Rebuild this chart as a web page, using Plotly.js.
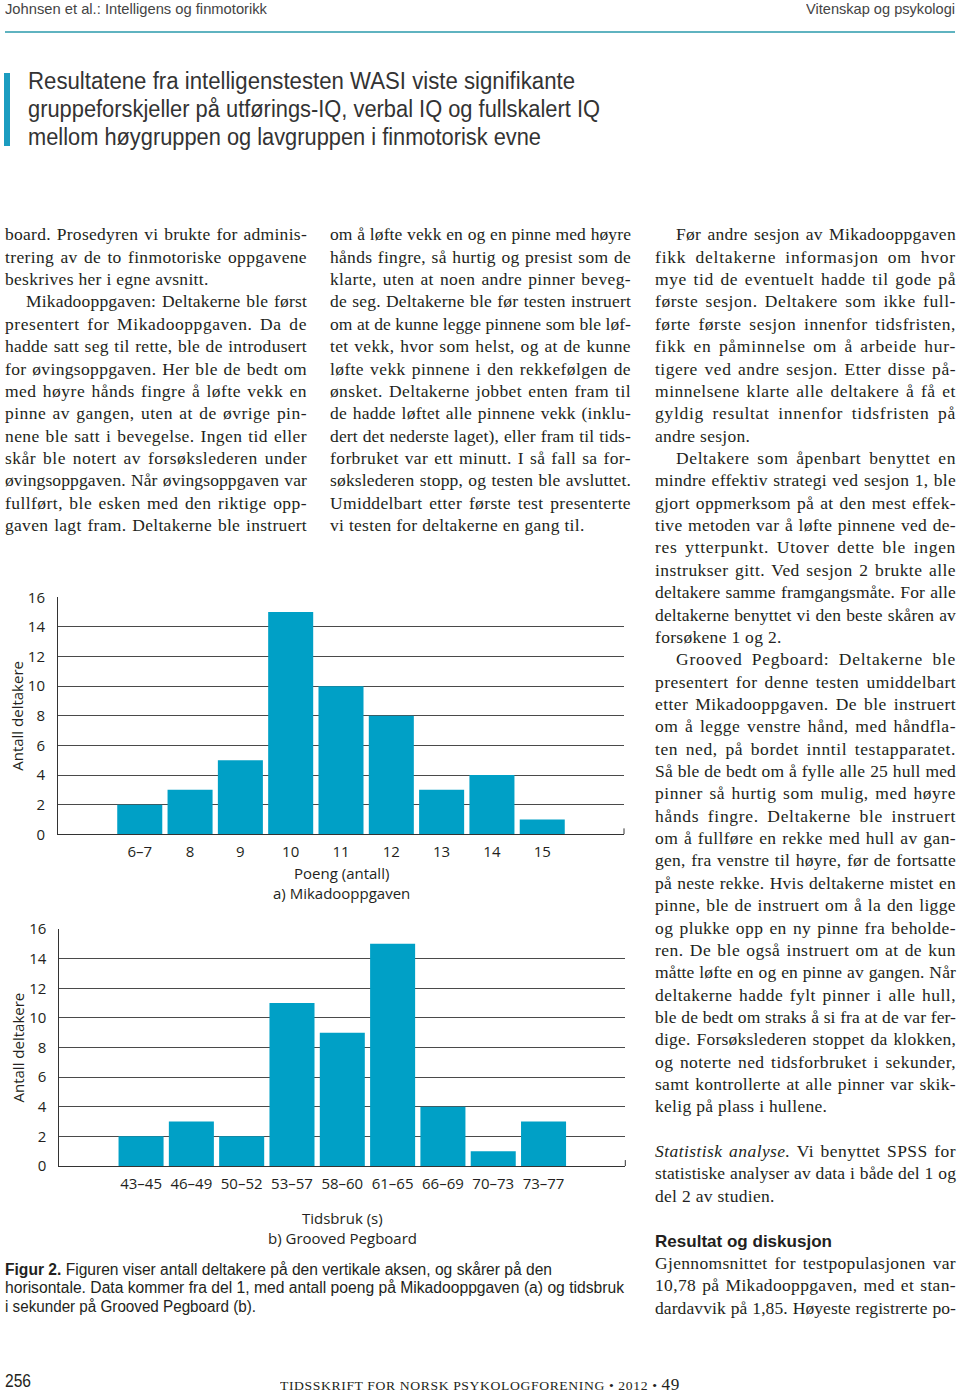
<!DOCTYPE html>
<html>
<head>
<meta charset="utf-8">
<script src="https://cdn.plot.ly/plotly-3.0.1.min.js"></script>
<style>
  html, body { margin:0; padding:0; background:#fff; }
  body { width:960px; height:1392px; position:relative; overflow:hidden; color:#231f20; }
  #plot { position:absolute; left:0; top:0; width:960px; height:1392px; }
  .abs { position:absolute; white-space:pre; line-height:1; }
  .fit { display:inline-block; transform-origin:left center; white-space:pre; }
  .sans { font-family:"Liberation Sans", Arial, sans-serif; }
  .serif { font-family:"Liberation Serif", "Times New Roman", serif; }
  .col { position:absolute; font-family:"Liberation Serif", "Times New Roman", serif; font-size:17.5px; color:#231f20; }
  .l { height:22.36px; line-height:22.36px; white-space:pre; }
  .l > span { display:inline-block; white-space:pre; transform-origin:left center; }
  .head { font-family:"Liberation Sans", Arial, sans-serif; font-weight:bold; font-size:17px; }
</style>
</head>
<body>
<div id="plot"></div>

<!-- header -->
<div class="abs sans" style="left:5px;top:1px;font-size:15px;color:#444;"><span class="fit" data-w="262">Johnsen et al.: Intelligens og finmotorikk</span></div>
<div class="abs sans" style="left:806px;top:1px;font-size:15px;color:#444;"><span class="fit" data-w="149">Vitenskap og psykologi</span></div>
<div style="position:absolute;left:5px;top:31px;width:950px;height:1.5px;background:#5fb3c0;"></div>

<!-- pull quote -->
<div style="position:absolute;left:4px;top:73px;width:6px;height:73px;background:#1b9cc0;"></div>
<div class="abs sans" style="left:28px;top:70px;font-size:23px;color:#333;"><span class="fit" data-w="547">Resultatene fra intelligenstesten WASI viste signifikante</span></div>
<div class="abs sans" style="left:28px;top:98px;font-size:23px;color:#333;"><span class="fit" data-w="572">gruppeforskjeller på utførings-IQ, verbal IQ og fullskalert IQ</span></div>
<div class="abs sans" style="left:28px;top:126px;font-size:23px;color:#333;"><span class="fit" data-w="513">mellom høygruppen og lavgruppen i finmotorisk evne</span></div>

<!-- columns -->
<div class="col" id="col1" data-w="302" style="left:5px;top:223.4px;width:302px;"></div>
<div class="col" id="col2" data-w="301" style="left:330px;top:223.4px;width:301px;"></div>
<div class="col" id="col3" data-w="301" style="left:655px;top:223.4px;width:301px;"></div>

<!-- caption -->
<div class="abs sans" style="left:5px;top:1261.5px;font-size:16px;color:#231f20;"><span class="fit" data-w="547"><b>Figur 2.</b> Figuren viser antall deltakere på den vertikale aksen, og skårer på den</span></div>
<div class="abs sans" style="left:5px;top:1280px;font-size:16px;color:#231f20;"><span class="fit" data-w="619">horisontale. Data kommer fra del 1, med antall poeng på Mikadooppgaven (a) og tidsbruk</span></div>
<div class="abs sans" style="left:5px;top:1298.5px;font-size:16px;color:#231f20;"><span class="fit" data-w="251">i sekunder på Grooved Pegboard (b).</span></div>

<!-- footer -->
<div class="abs sans" style="left:5px;top:1372px;font-size:18px;color:#231f20;"><span class="fit" data-w="26">256</span></div>
<div class="abs serif" style="left:280px;top:1375.5px;font-size:13.5px;color:#231f20;letter-spacing:0.6px;"><span class="fit" data-w="400">TIDSSKRIFT FOR NORSK PSYKOLOGFORENING • 2012 • <span style="font-size:17px;">49</span></span></div>

<script>
// ---------------- chart data ----------------
const mikadoCategories = ['6–7', '8', '9', '10', '11', '12', '13', '14', '15'];
const mikadoCounts     = [2, 3, 5, 15, 10, 8, 3, 4, 1];

const pegboardCategories = ['43–45', '46–49', '50–52', '53–57', '58–60', '61–65', '66–69', '70–73', '73–77'];
const pegboardCounts     = [2, 3, 2, 11, 9, 15, 4, 1, 3];

const yTickValues = [0, 2, 4, 6, 8, 10, 12, 14, 16];

const yTitle = 'Antall deltakere';
const mikadoXTitle = 'Poeng (antall)';
const mikadoSubtitle = 'a) Mikadooppgaven';
const pegboardXTitle = 'Tidsbruk (s)';
const pegboardSubtitle = 'b) Grooved Pegboard';

// ---------------- body text ----------------
// '>' = indented first line, '|' = last line of paragraph (not justified), '#' = heading
const col1Lines = [
  "board. Prosedyren vi brukte for adminis-",
  "trering av de to finmotoriske oppgavene",
  "beskrives her i egne avsnitt.|",
  ">Mikadooppgaven: Deltakerne ble først",
  "presentert for Mikadooppgaven. Da de",
  "hadde satt seg til rette, ble de introdusert",
  "for øvingsoppgaven. Her ble de bedt om",
  "med høyre hånds fingre å løfte vekk en",
  "pinne av gangen, uten at de øvrige pin-",
  "nene ble satt i bevegelse. Ingen tid eller",
  "skår ble notert av forsøkslederen under",
  "øvingsoppgaven. Når øvingsoppgaven var",
  "fullført, ble esken med den riktige opp-",
  "gaven lagt fram. Deltakerne ble instruert"
];
const col2Lines = [
  "om å løfte vekk en og en pinne med høyre",
  "hånds fingre, så hurtig og presist som de",
  "klarte, uten at noen andre pinner beveg-",
  "de seg. Deltakerne ble før testen instruert",
  "om at de kunne legge pinnene som ble løf-",
  "tet vekk, hvor som helst, og at de kunne",
  "løfte vekk pinnene i den rekkefølgen de",
  "ønsket. Deltakerne jobbet enten fram til",
  "de hadde løftet alle pinnene vekk (inklu-",
  "dert det nederste laget), eller fram til tids-",
  "forbruket var ett minutt. I så fall sa for-",
  "søkslederen stopp, og testen ble avsluttet.",
  "Umiddelbart etter første test presenterte",
  "vi testen for deltakerne en gang til.|"
];
const col3Lines = [
  ">Før andre sesjon av Mikadooppgaven",
  "fikk deltakerne informasjon om hvor",
  "mye tid de eventuelt hadde til gode på",
  "første sesjon. Deltakere som ikke full-",
  "førte første sesjon innenfor tidsfristen,",
  "fikk en påminnelse om å arbeide hur-",
  "tigere ved andre sesjon. Etter disse på-",
  "minnelsene klarte alle deltakere å få et",
  "gyldig resultat innenfor tidsfristen på",
  "andre sesjon.|",
  ">Deltakere som åpenbart benyttet en",
  "mindre effektiv strategi ved sesjon 1, ble",
  "gjort oppmerksom på at den mest effek-",
  "tive metoden var å løfte pinnene ved de-",
  "res ytterpunkt. Utover dette ble ingen",
  "instrukser gitt. Ved sesjon 2 brukte alle",
  "deltakere samme framgangsmåte. For alle",
  "deltakerne benyttet vi den beste skåren av",
  "forsøkene 1 og 2.|",
  ">Grooved Pegboard: Deltakerne ble",
  "presentert for denne testen umiddelbart",
  "etter Mikadooppgaven. De ble instruert",
  "om å legge venstre hånd, med håndfla-",
  "ten ned, på bordet inntil testapparatet.",
  "Så ble de bedt om å fylle alle 25 hull med",
  "pinner så hurtig som mulig, med høyre",
  "hånds fingre. Deltakerne ble instruert",
  "om å fullføre en rekke med hull av gan-",
  "gen, fra venstre til høyre, før de fortsatte",
  "på neste rekke. Hvis deltakerne mistet en",
  "pinne, ble de instruert om å la den ligge",
  "og plukke opp en ny pinne fra beholde-",
  "ren. De ble også instruert om at de kun",
  "måtte løfte en og en pinne av gangen. Når",
  "deltakerne hadde fylt pinner i alle hull,",
  "ble de bedt om straks å si fra at de var fer-",
  "dige. Forsøkslederen stoppet da klokken,",
  "og noterte ned tidsforbruket i sekunder,",
  "samt kontrollerte at alle pinner var skik-",
  "kelig på plass i hullene.|",
  "",
  "<i>Statistisk analyse.</i> Vi benyttet SPSS for",
  "statistiske analyser av data i både del 1 og",
  "del 2 av studien.|",
  "",
  "#Resultat og diskusjon",
  "Gjennomsnittet for testpopulasjonen var",
  "10,78 på Mikadooppgaven, med et stan-",
  "dardavvik på 1,85. Høyeste registrerte po-"
];

function buildColumn(id, lines) {
  const col = document.getElementById(id);
  lines.forEach(raw => {
    const d = document.createElement('div');
    d.className = 'l';
    let t = raw;
    if (t === '') { d.innerHTML = '&nbsp;'; col.appendChild(d); return; }
    if (t.startsWith('#')) { d.classList.add('h'); t = t.slice(1); }
    else {
      if (t.startsWith('>')) { d.classList.add('i'); t = t.slice(1); d.style.paddingLeft = '21px'; }
      if (t.endsWith('|')) { t = t.slice(0, -1); } else { d.classList.add('j'); }
    }
    const s = document.createElement('span');
    if (d.classList.contains('h')) s.className = 'head';
    s.innerHTML = t;
    d.appendChild(s);
    col.appendChild(d);
  });
}
buildColumn('col1', col1Lines);
buildColumn('col2', col2Lines);
buildColumn('col3', col3Lines);

function layoutText() {
  document.querySelectorAll('.col').forEach(col => {
    const W = parseFloat(col.dataset.w);
    col.querySelectorAll('.l').forEach(l => {
      const s = l.querySelector('span');
      if (!s) return;
      s.style.wordSpacing = '0px';
      s.style.letterSpacing = '0px';
      s.style.transform = 'none';
      const target = W - (l.classList.contains('i') ? 21 : 0);
      let w = s.getBoundingClientRect().width;
      if (l.classList.contains('h')) {
        s.style.transform = 'scaleX(' + (177 / w) + ')';
        return;
      }
      const txt = s.textContent;
      if (l.classList.contains('j')) {
        const n = (txt.match(/ /g) || []).length;
        if (w < target) {
          const ls = Math.min(0.9, 0.65 * (target - w) / txt.length);
          s.style.letterSpacing = ls + 'px';
          w = s.getBoundingClientRect().width;
          if (w < target && n > 0) s.style.wordSpacing = ((target - w) / n) + 'px';
          else if (w > target) s.style.transform = 'scaleX(' + (target / w) + ')';
        } else if (w > target) {
          s.style.transform = 'scaleX(' + (target / w) + ')';
        }
      } else {
        s.style.letterSpacing = '0.3px';
        w = s.getBoundingClientRect().width;
        if (w > target) s.style.transform = 'scaleX(' + (target / w) + ')';
      }
    });
  });
  document.querySelectorAll('.fit').forEach(s => {
    s.style.transform = 'none';
    const w = s.getBoundingClientRect().width;
    const target = parseFloat(s.dataset.w);
    if (w > 0) s.style.transform = 'scaleX(' + (target / w) + ')';
  });
}
layoutText();
if (document.fonts && document.fonts.ready) document.fonts.ready.then(layoutText);

// ---------------- plot ----------------
const H = 1392, Wp = 960;
const px = v => v / Wp;
const py = v => 1 - v / H;

const barColor = '#00a0c6';
const gridColor = '#4a4a4a';
const axisColor = '#333333';
const textColor = '#231f20';
const chartFont = { family: '"Open Sans", "Liberation Sans", sans-serif', size: 15, color: textColor };

const traces = [
  { type: 'bar', x: mikadoCategories, y: mikadoCounts, xaxis: 'x', yaxis: 'y',
    marker: { color: barColor, line: { width: 0 } }, hoverinfo: 'none' },
  { type: 'bar', x: pegboardCategories, y: pegboardCounts, xaxis: 'x2', yaxis: 'y2',
    marker: { color: barColor, line: { width: 0 } }, hoverinfo: 'none' }
];

function xAxis(domain, anchor) {
  return {
    domain: domain, anchor: anchor, type: 'category', range: [-1.625, 9.625],
    showgrid: false, zeroline: false, showline: true, linecolor: axisColor, linewidth: 1,
    ticks: '', tickfont: chartFont, ticklabelstandoff: 4, fixedrange: true
  };
}
function yAxis(domain, anchor) {
  return {
    domain: domain, anchor: anchor, range: [0, 16], tickmode: 'array', tickvals: yTickValues,
    showgrid: true, gridcolor: gridColor, gridwidth: 1, zeroline: false,
    showline: true, linecolor: axisColor, linewidth: 1,
    ticks: '', tickfont: chartFont, ticklabelstandoff: 9, fixedrange: true
  };
}

const layout = {
  width: Wp, height: H,
  margin: { l: 0, r: 0, t: 0, b: 0, pad: 0 },
  paper_bgcolor: 'rgba(0,0,0,0)', plot_bgcolor: 'rgba(0,0,0,0)',
  showlegend: false, bargap: 0.105,
  font: chartFont,
  xaxis: xAxis([px(58), px(624)], 'y'),
  yaxis: yAxis([py(834.3), py(597.3)], 'x'),
  xaxis2: xAxis([px(59.3), px(625.3)], 'y2'),
  yaxis2: yAxis([py(1166), py(929)], 'x2'),
  shapes: [
    { type: 'line', xref: 'x domain', yref: 'y', x0: 1, x1: 1, y0: 0, y1: 0.4, line: { color: axisColor, width: 1 } },
    { type: 'line', xref: 'x2 domain', yref: 'y2', x0: 1, x1: 1, y0: 0, y1: 0.4, line: { color: axisColor, width: 1 } }
  ],
  annotations: [
    { text: yTitle, xref: 'paper', yref: 'y domain', x: px(17), y: 0.5, textangle: -90, showarrow: false, xanchor: 'center', yanchor: 'middle', font: chartFont },
    { text: yTitle, xref: 'paper', yref: 'y2 domain', x: px(17), y: 0.5, textangle: -90, showarrow: false, xanchor: 'center', yanchor: 'middle', font: chartFont },
    { text: mikadoXTitle, xref: 'x domain', yref: 'paper', x: 0.5, y: py(873), showarrow: false, xanchor: 'center', yanchor: 'middle', font: chartFont },
    { text: mikadoSubtitle, xref: 'x domain', yref: 'paper', x: 0.5, y: py(893), showarrow: false, xanchor: 'center', yanchor: 'middle', font: chartFont },
    { text: pegboardXTitle, xref: 'x2 domain', yref: 'paper', x: 0.5, y: py(1218), showarrow: false, xanchor: 'center', yanchor: 'middle', font: chartFont },
    { text: pegboardSubtitle, xref: 'x2 domain', yref: 'paper', x: 0.5, y: py(1238), showarrow: false, xanchor: 'center', yanchor: 'middle', font: chartFont }
  ]
};

Plotly.newPlot('plot', traces, layout, { staticPlot: true, displayModeBar: false });
</script>
</body>
</html>
